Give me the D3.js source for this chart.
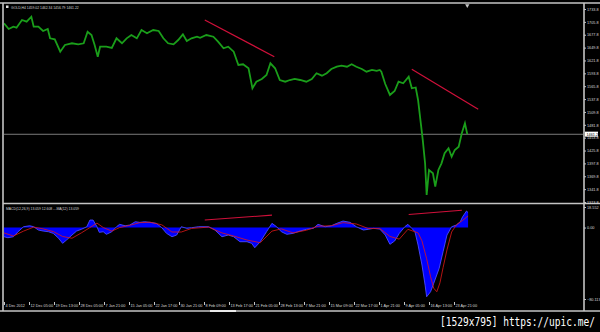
<!DOCTYPE html>
<html>
<head>
<meta charset="utf-8">
<script src="https://cdn.jsdelivr.net/npm/d3@7"></script>
<style>
  html, body { margin: 0; padding: 0; background: #000; }
  svg { display: block; }
  .lbl { font-family: "Liberation Sans", Arial, sans-serif; font-size: 3.8px; fill: #d8d8d8; }
</style>
</head>
<body>
<svg width="600" height="332"></svg>
<script>
// price samples (H4 bar number, close)
var priceBars = [0, 6, 12, 16, 23, 29, 35, 38, 44, 50, 56, 59, 65, 72, 78, 87, 95, 102, 107, 112,
  116, 120, 123, 131, 138, 144, 151, 157, 163, 170, 176, 183, 191, 198, 204, 210, 217, 223, 229, 234,
  240, 247, 251, 259, 268, 274, 281, 287, 294, 300, 306, 313, 318, 323, 330, 336, 341, 347, 353, 360,
  366, 372, 379, 387, 394, 400, 407, 413, 419, 426, 432, 439, 445, 451, 458, 464, 471, 477, 481, 483,
  488, 494, 500, 505, 511, 518, 522, 527, 530, 533, 536, 539, 541, 544, 549, 552, 556, 560, 564, 569,
  573, 577, 582, 586, 590, 593];
var priceClose = [1702.7, 1690.3, 1695.3, 1693.1, 1709.9, 1706.2, 1717.0, 1695.3, 1695.3, 1685.9,
  1690.3, 1670.0, 1667.9, 1640.9, 1655.5, 1659.2, 1657.0, 1659.2, 1684.4, 1677.2,
  1655.5, 1630.0, 1651.8, 1651.8, 1649.0, 1670.0, 1659.2, 1670.0, 1677.2, 1670.0,
  1688.1, 1680.9, 1688.1, 1686.0, 1670.0, 1659.2, 1657.0, 1666.3, 1678.7, 1664.2,
  1670.0, 1673.5, 1671.0, 1677.2, 1673.5, 1662.6, 1648.3, 1651.8, 1640.9, 1612.0,
  1613.5, 1604.8, 1561.2, 1575.6, 1581.5, 1590.2, 1615.6, 1604.8, 1579.3, 1575.6,
  1579.3, 1581.5, 1579.3, 1575.6, 1581.5, 1593.9, 1588.7, 1593.9, 1603.2, 1608.2,
  1610.4, 1608.2, 1613.5, 1608.2, 1603.2, 1597.4, 1601.1, 1599.0, 1601.1, 1597.4,
  1570.6, 1546.7, 1555.4, 1575.6, 1572.1, 1586.5, 1561.2, 1563.0, 1535.8, 1492.3,
  1448.8, 1398.0, 1329.1, 1383.5, 1376.3, 1347.1, 1383.5, 1398.0, 1419.8, 1430.7,
  1412.4, 1427.0, 1434.2, 1463.3, 1485.1, 1461.2];

// MACD main values
var macdBars = [0, 5, 12, 18, 25, 33, 38, 44, 50, 57, 63, 70, 75, 80, 87, 93, 99, 106, 110, 114,
  119, 122, 127, 131, 138, 144, 148, 155, 161, 168, 174, 180, 187, 195, 202, 208, 215, 221, 227, 234,
  240, 249, 262, 270, 279, 287, 294, 302, 311, 317, 321, 328, 336, 343, 349, 355, 362, 370, 379, 387,
  396, 402, 411, 419, 426, 434, 443, 451, 460, 466, 473, 481, 488, 494, 500, 506, 513, 517, 522, 526,
  530, 535, 539, 541, 546, 550, 557, 562, 567, 573, 579, 584, 587, 592, 594];
var macdValues = [-10.3, -11.4, -10.3, -4.7, 0.9, 2.0, 0.9, -2.8, -3.9, -4.7,
  -6.5, -12.1, -17.7, -14.0, -8.4, -3.9, -2.0, 0.9, 8.4, 8.4,
  0.9, -5.4, -4.7, -7.6, -4.7, 0.9, 3.6, 2.0, 2.8, 6.5,
  5.8, 6.5, 5.8, 4.7, -0.2, -6.5, -10.3, -8.4, 0.9, -0.9,
  -0.2, 0.9, 0.9, -2.8, -10.3, -8.4, -10.3, -15.9, -15.9, -17.7,
  -22.6, -15.9, -4.7, 4.7, 0.9, -4.7, -7.6, -6.5, -3.9, -2.0,
  -0.9, 3.6, 0.9, 2.0, 4.7, 7.3, 5.8, 0.9, -2.8, -2.0,
  -0.9, -1.7, -8.4, -18.8, -15.1, -6.5, 0.9, 3.6, -0.9, -4.7,
  -19.6, -42.0, -64.5, -77.6, -72.0, -62.6, -45.7, -27.1, -8.4, 0.9,
  2.8, 6.5, 12.1, 18.5, 16.8];

// MACD signal values
var signalBars = [0, 12, 25, 38, 50, 63, 75, 87, 99, 110, 119, 127, 138, 148, 161, 174, 187, 202,
  215, 227, 240, 262, 279, 294, 311, 328, 343, 355, 370, 387, 402, 419, 434, 451, 466, 481, 494, 506,
  517, 530, 535, 541, 546, 550, 554, 558, 562, 567, 573, 579, 587, 594];
var signalValues = [-6.0, -9.5, -4.0, 0.5, -1.5, -4.5, -10.0, -12.0, -6.0, 0.0, 5.0, 0.0, -4.0, 0.0,
  2.5, 5.5, 6.0, 3.0, -5.0, -5.0, -1.0, 0.5, -6.0, -9.5, -14.0, -17.0, -4.0, -1.5, -6.0, -3.0,
  1.5, 2.0, 5.5, 4.0, -1.0, -1.0, -10.0, -13.0, -2.0, -6.0, -15.0, -35.0, -55.0, -68.0, -72.0,
  -62.0, -45.0, -25.0, -5.0, 3.0, 8.0, 13.0];

// trend lines [bar1, value1, bar2, value2]
var priceTrends = [[257, 1709.9, 346, 1630.0], [522, 1602.6, 607, 1515.5]];
var macdTrends = [[257, 8.4, 343, 13.9], [518, 14.7, 586, 19.4]];

var priceTicks = [1733.8, 1705.8, 1677.8, 1649.8, 1621.8, 1593.8, 1565.8, 1537.8, 1509.8, 1481.8,
  1453.8, 1425.8, 1397.8, 1369.8, 1341.8, 1313.8];
var macdTicks = [18.552, 0, -80.113];
var timeLabels = ["4 Dec 2012", "12 Dec 05:00", "19 Dec 13:00", "28 Dec 05:00", "7 Jan 21:00",
  "15 Jan 05:00", "22 Jan 17:00", "30 Jan 21:00", "8 Feb 09:00", "13 Feb 17:00", "21 Feb 05:00",
  "28 Feb 13:00", "7 Mar 21:00", "15 Mar 09:00", "22 Mar 17:00", "1 Apr 21:00", "9 Apr 05:00",
  "16 Apr 13:00", "23 Apr 21:00"];
var barsPerLabel = 32;
var lastPrice = 1461.2;

var svg = d3.select("svg");
var axisX = 584;

// scales
var x = d3.scaleLinear().domain([0, 576]).range([4, 454]);
var y = d3.scaleLinear().domain([1313.8, 1733.8]).range([202, 9]);
var ym = d3.scaleLinear().domain([-80.113, 18.552]).range([299, 211]);

// frame
var frame = svg.append("g").attr("stroke", "#c4c4c4").attr("stroke-width", 1.6);
frame.append("line").attr("x1", 0).attr("x2", 600).attr("y1", 3).attr("y2", 3);
frame.append("line").attr("x1", 3).attr("x2", 3).attr("y1", 3).attr("y2", 311);
frame.append("line").attr("x1", axisX).attr("x2", axisX).attr("y1", 3).attr("y2", 311);
frame.append("line").attr("x1", 3).attr("x2", 600).attr("y1", 203.5).attr("y2", 203.5);
frame.append("line").attr("x1", 0).attr("x2", 600).attr("y1", 311).attr("y2", 311);
svg.append("line").attr("x1", 210).attr("x2", 236).attr("y1", 311).attr("y2", 311)
  .attr("stroke", "#ffffff").attr("stroke-width", 1.6);

// clip regions
svg.append("clipPath").attr("id", "clipMain").append("rect")
  .attr("x", 4).attr("y", 4).attr("width", axisX - 4).attr("height", 198.5);
svg.append("clipPath").attr("id", "clipMacd").append("rect")
  .attr("x", 4).attr("y", 204.5).attr("width", axisX - 4).attr("height", 96);

// right price axis
var yAxis = d3.axisRight(y).tickValues(priceTicks).tickSize(2).tickFormat(d3.format(".1f"));
var gy = svg.append("g").attr("transform", "translate(" + axisX + ",0)").call(yAxis);
gy.select(".domain").remove();
gy.selectAll("line").attr("stroke", "#c4c4c4");
gy.selectAll("text").attr("class", "lbl").attr("x", 3).attr("fill", null);

var yAxisM = d3.axisRight(ym).tickValues(macdTicks).tickSize(2)
  .tickFormat(function(d) { return d === 0 ? "0.00" : d3.format(".3f")(d); });
var gm = svg.append("g").attr("transform", "translate(" + axisX + ",0)").call(yAxisM);
gm.select(".domain").remove();
gm.selectAll("line").attr("stroke", "#c4c4c4");
gm.selectAll("text").attr("class", "lbl").attr("x", 3).attr("fill", null);
gm.selectAll(".tick").filter(function(d) { return d === 18.552; })
  .attr("transform", "translate(0," + (ym(18.552) - 3.5) + ")");

// time axis
var xAxis = d3.axisBottom(x).tickValues(timeLabels.map(function(d, i) { return i * barsPerLabel; }))
  .tickSize(3).tickFormat(function(d, i) { return timeLabels[i]; });
var gx = svg.append("g").attr("transform", "translate(0,302)").call(xAxis);
gx.select(".domain").remove();
gx.selectAll("line").attr("stroke", "#c4c4c4");
gx.selectAll("text").attr("class", "lbl").attr("fill", null)
  .attr("text-anchor", "start").attr("x", 1).attr("y", 2.5).attr("dy", "0.71em");

// current price line
svg.append("line").attr("x1", 4).attr("x2", axisX).attr("y1", y(lastPrice)).attr("y2", y(lastPrice))
  .attr("stroke", "#9a9a9a").attr("stroke-width", 0.8);
svg.append("rect").attr("x", axisX + 1).attr("y", y(lastPrice) - 2.6).attr("width", 13).attr("height", 5)
  .attr("fill", "#ffffff");
svg.append("text").attr("class", "lbl").attr("x", axisX + 2.5).attr("y", y(lastPrice) + 1.4)
  .style("fill", "#000").text(lastPrice.toFixed(1));

// price line
var priceData = priceBars.map(function(b, i) { return [b, priceClose[i]]; });
var line = d3.line()
  .x(function(d) { return x(d[0]); })
  .y(function(d) { return y(d[1]); });
svg.append("path").datum(priceData).attr("clip-path", "url(#clipMain)")
  .attr("fill", "none").attr("stroke", "#1a9e1a").attr("stroke-width", 1.8)
  .attr("stroke-linejoin", "miter").attr("d", line);

// price trend lines
svg.append("g").attr("clip-path", "url(#clipMain)").selectAll("line").data(priceTrends).join("line")
  .attr("x1", function(d) { return x(d[0]); }).attr("y1", function(d) { return y(d[1]); })
  .attr("x2", function(d) { return x(d[2]); }).attr("y2", function(d) { return y(d[3]); })
  .attr("stroke", "#d0103a").attr("stroke-width", 1.2);

// MACD histogram area
var macdData = macdBars.map(function(b, i) { return [b, macdValues[i]]; });
var area = d3.area()
  .x(function(d) { return x(d[0]); })
  .y0(ym(0))
  .y1(function(d) { return ym(d[1]); });
var mline = d3.line()
  .x(function(d) { return x(d[0]); })
  .y(function(d) { return ym(d[1]); });
var gMacd = svg.append("g").attr("clip-path", "url(#clipMacd)");
gMacd.append("path").datum(macdData).attr("fill", "#0000ff").attr("d", area);
gMacd.append("path").datum(macdData).attr("fill", "none").attr("stroke", "#4b4bff")
  .attr("stroke-width", 0.9).attr("d", mline);

// signal line
var signalData = signalBars.map(function(b, i) { return [b, signalValues[i]]; });
gMacd.append("path").datum(signalData).attr("fill", "none").attr("stroke", "#e01818")
  .attr("stroke-width", 0.8).attr("d", mline);

// MACD trend lines
gMacd.selectAll("line.trend").data(macdTrends).join("line").attr("class", "trend")
  .attr("x1", function(d) { return x(d[0]); }).attr("y1", function(d) { return ym(d[1]); })
  .attr("x2", function(d) { return x(d[2]); }).attr("y2", function(d) { return ym(d[3]); })
  .attr("stroke", "#d0103a").attr("stroke-width", 1.1);

// headers
svg.append("rect").attr("x", 6).attr("y", 5.5).attr("width", 2.5).attr("height", 2.5).attr("fill", "#e0e0e0");
svg.append("text").attr("class", "lbl").attr("x", 11).attr("y", 8.5).style("font-size", "3.4px")
  .text("GOLD,H4  1459.02 1462.34 1456.79 1461.22");
svg.append("text").attr("class", "lbl").attr("x", 6).attr("y", 209.5).style("font-size", "3.4px")
  .text("MACD(12,26,9) 13.059 12.608  ---MA(12) 13.059");

// shift marker at the last bar
svg.append("path").attr("d", d3.symbol(d3.symbolTriangle, 8)())
  .attr("transform", "translate(" + x(593) + ",5.5) rotate(180)").attr("fill", "#c4c4c4");

// watermark
svg.append("text").attr("x", 440).attr("y", 325.5)
  .attr("font-family", "DejaVu Sans Mono, monospace").attr("font-size", 12)
  .attr("textLength", 155).attr("lengthAdjust", "spacingAndGlyphs")
  .attr("fill", "#ffffff").text("[1529x795] https://upic.me/");
</script>
</body>
</html>
